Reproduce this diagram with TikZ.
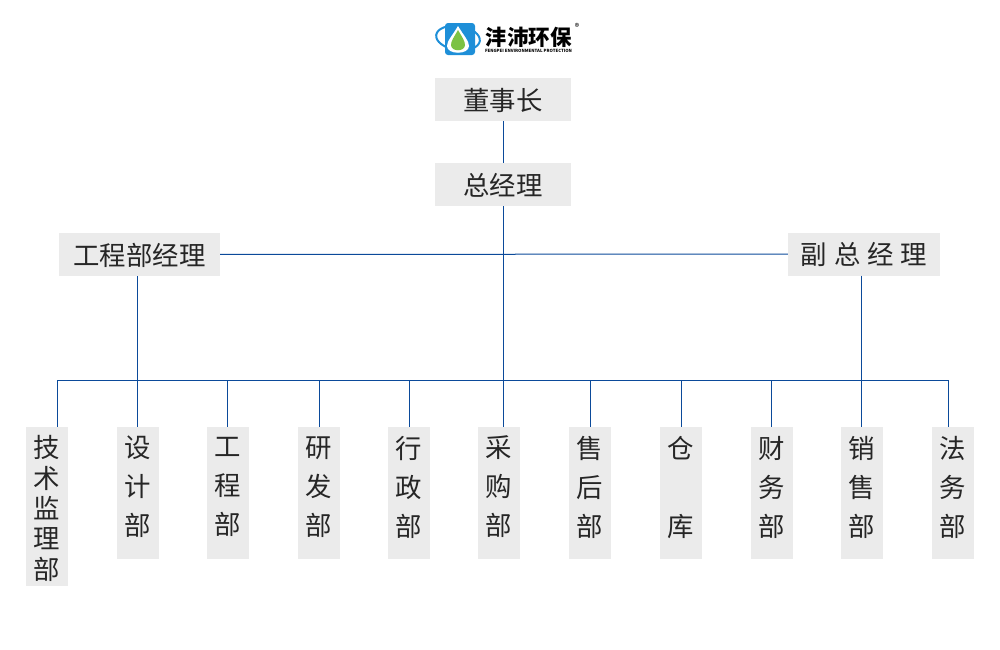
\documentclass[tikz,border=0pt]{standalone}
\usepackage{fontspec}
\setmainfont{Noto Sans CJK SC}
\usetikzlibrary{calc}
\definecolor{boxgray}{HTML}{EBEBEB}
\definecolor{linkblue}{HTML}{0B4A9A}
\definecolor{logoblue}{HTML}{1E8FD8}
\definecolor{logogreen}{HTML}{7CC243}
\tikzset{
  box/.style={fill=boxgray, text=black!85, inner sep=0pt, align=center, font=\fontsize{26.4}{39}\selectfont},
  wide/.style={box, minimum height=43pt, text height=23pt, text depth=1.2pt},
  tall/.style={box, minimum width=42pt, minimum height=132pt},
  link/.style={draw=linkblue, line width=1pt},
}
\begin{document}
\begin{tikzpicture} [x=1pt, y=-1pt]
\useasboundingbox (0,0) rectangle (1000,649);
% logo
\fill[logoblue, rounded corners=3pt] (445,23) rectangle (475,55);
\draw[logoblue, line width=2pt, rotate around={-8:(458,38)}] (458,38) ellipse (22 and 12);
\fill[white] (458,26) .. controls (452,36) and (447,41) .. (447,46) .. controls (447,55) and (469,55) .. (469,46) .. controls (469,41) and (464,36) .. (458,26);
\fill[logogreen] (458,30) .. controls (454,37) and (451,41) .. (451,45) .. controls (451,52) and (465,52) .. (465,45) .. controls (465,41) and (462,37) .. (458,30);
\node (logotext) at (528.5,37) {\fontsize{21.5}{22}\selectfont\bfseries 沣沛环保};
\node (logosub) at (528.5,51) {\fontsize{4.3}{5}\selectfont\bfseries FENGPEI ENVIRONMENTAL PROTECTION};
\node (logomark) at (577,27) {\fontsize{9}{9}\selectfont ®};
% top of the chart
\node[wide, minimum width=136pt] (chair) at (503,99.5) {董事长};
\node[wide, minimum width=136pt] (gm) at (503,184.5) {总经理};
\node[wide, minimum width=161pt] (eng) at (139.5,254.5) {工程部经理};
\node[wide, minimum width=152pt] (vice) at (864,254) {副\hspace{7pt}总\hspace{7pt}经\hspace{7pt}理};
% departments
\node[box, minimum width=42pt, minimum height=159pt, font=\fontsize{26.4}{30.4}\selectfont] (dept1) at (47,506.5) {\rule{0pt}{26pt}技\\术\\监\\理\\部};
\foreach \n/\x/\txt in {2/138/设\\计\\部, 3/228/工\\程\\部, 4/319/研\\发\\部, 5/409/行\\政\\部, 6/499/采\\购\\部,
  7/590/售\\后\\部, 8/681/仓\\ \\库, 9/772/财\\务\\部, 10/862/销\\售\\部, 11/953/法\\务\\部} {
 \node[tall] (dept\n) at (\x,493) {\txt\\[-25pt]};
}
% bus line
\coordinate (busl) at (57,380);
\coordinate (busr) at (948,380);
\draw[link] (busl) -- (busr);
\foreach \n/\x in {1/57,2/137,3/227,4/319,5/409,6/503,7/590,8/681,9/771,10/861,11/948} {
 \coordinate (drop\n) at (\x,380);
 \draw[link] (drop\n) -- (drop\n |- dept\n.north);
}
\draw[link] (chair) -- (gm);
\draw[link] (gm) -- (drop6);
\draw[link] (eng) -- (vice);
\draw[link] (drop2 |- eng.south) -- (drop2);
\draw[link] (drop10 |- vice.south) -- (drop10);
\end{tikzpicture}
\end{document}
